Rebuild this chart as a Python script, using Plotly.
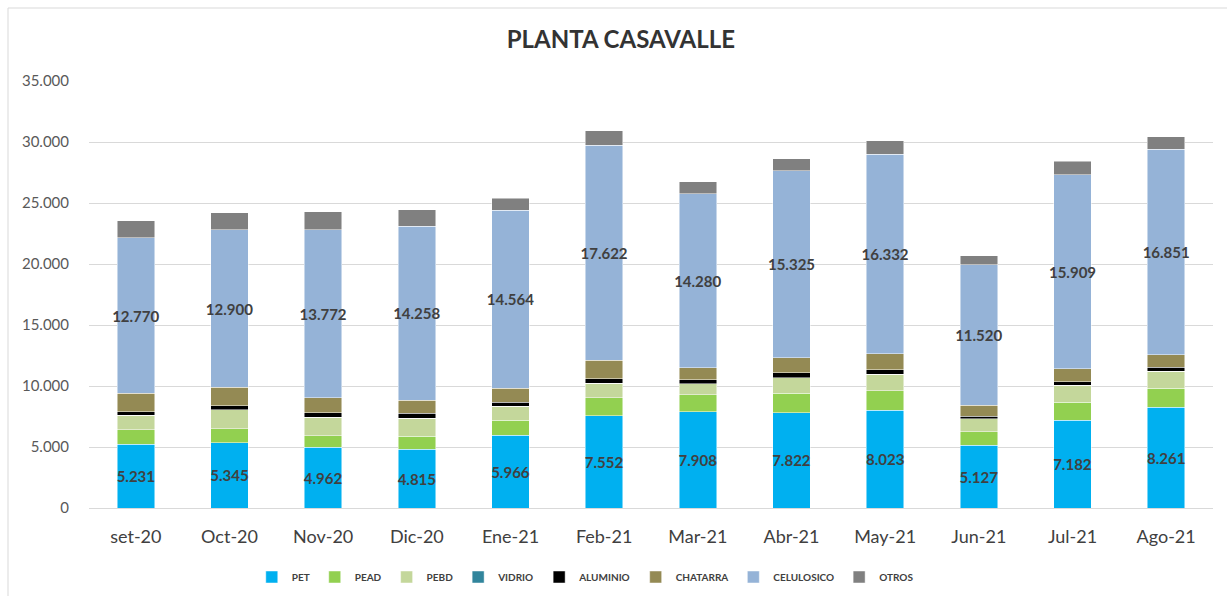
import plotly.graph_objects as go

months = ["set-20", "Oct-20", "Nov-20", "Dic-20", "Ene-21", "Feb-21",
          "Mar-21", "Abr-21", "May-21", "Jun-21", "Jul-21", "Ago-21"]

pet = [5231, 5345, 4962, 4815, 5966, 7552, 7908, 7822, 8023, 5127, 7182, 8261]
pead = [1200, 1170, 980, 1070, 1230, 1500, 1390, 1590, 1590, 1120, 1480, 1560]
pebd = [1180, 1530, 1480, 1480, 1150, 1180, 900, 1280, 1370, 1070, 1390, 1390]
vidrio = [0, 0, 0, 0, 0, 0, 0, 0, 0, 0, 0, 0]
aluminio = [280, 350, 380, 410, 330, 380, 300, 410, 330, 220, 300, 330]
chatarra = [1500, 1500, 1230, 1070, 1150, 1480, 980, 1200, 1340, 870, 1070, 1010]
celulosico = [12770, 12900, 13772, 14258, 14564, 17622, 14280, 15325, 16332, 11520, 15909, 16851]
otros = [1400, 1400, 1480, 1330, 980, 1200, 980, 980, 1100, 740, 1100, 1040]

series = [
    ("PET", pet, "#00B0F0", True),
    ("PEAD", pead, "#92D050", False),
    ("PEBD", pebd, "#C4D79B", False),
    ("VIDRIO", vidrio, "#31859C", False),
    ("ALUMINIO", aluminio, "#000000", False),
    ("CHATARRA", chatarra, "#948A54", False),
    ("CELULOSICO", celulosico, "#95B3D7", True),
    ("OTROS", otros, "#808080", False),
]

FONT = "Lato"
fig = go.Figure()
for name, vals, color, labeled in series:
    kw = {}
    if labeled:
        kw = dict(
            texttemplate="%{y:,.0f}",
            textposition="inside",
            insidetextanchor="middle",
            textangle=0,
            constraintext="none",
            insidetextfont=dict(family=FONT, size=15, color="#404040", weight="bold"),
        )
    fig.add_trace(go.Bar(
        name=name, x=months, y=vals,
        marker=dict(color=color, line=dict(color="rgba(255,255,255,0.8)", width=0.6)),
        hoverinfo="skip", **kw))

fig.update_layout(
    barmode="stack",
    bargap=0.6,
    separators=",.",
    width=1227, height=596,
    autosize=False,
    margin=dict(l=89, r=14, t=81, b=88),
    paper_bgcolor="white", plot_bgcolor="white",
    font=dict(family=FONT, color="#595959"),
    title=dict(text="PLANTA CASAVALLE", x=0.506, xanchor="center", y=0.933, yanchor="middle",
               xref="container", yref="container",
               font=dict(family=FONT, size=24, color="#333333", weight="bold")),
    legend=dict(orientation="h", xref="container", yref="container",
                x=0.477, xanchor="center", y=1 - 577 / 596, yanchor="middle",
                traceorder="normal", itemwidth=30, tracegroupgap=0,
                font=dict(family=FONT, size=10, color="#404040", weight="bold")),
    showlegend=True,
)
fig.update_yaxes(range=[0, 35000], dtick=5000, tickformat=",.0f",
                 gridcolor="#D9D9D9", gridwidth=1, zeroline=False, showline=False,
                 tickfont=dict(family=FONT, size=15, color="#595959"),
                 ticklabelstandoff=19)
fig.update_xaxes(showline=True, linecolor="#D9D9D9", linewidth=1,
                 tickfont=dict(family=FONT, size=18, color="#404040"),
                 ticklabelstandoff=12)

# outer chart border (top and left visible in the reference)
bx = (8 - 89) / 1124
by = (508 - 8) / 427
fig.add_shape(type="line", xref="paper", yref="paper", x0=bx, y0=by, x1=1.2, y1=by,
              line=dict(color="#D9D9D9", width=1))
fig.add_shape(type="line", xref="paper", yref="paper", x0=bx, y0=by, x1=bx, y1=-0.5,
              line=dict(color="#D9D9D9", width=1))

fig.write_html("out.html",
               config={"responsive": False, "displayModeBar": False},
               post_script="document.body.style.margin='0';document.body.style.overflow='hidden';")
